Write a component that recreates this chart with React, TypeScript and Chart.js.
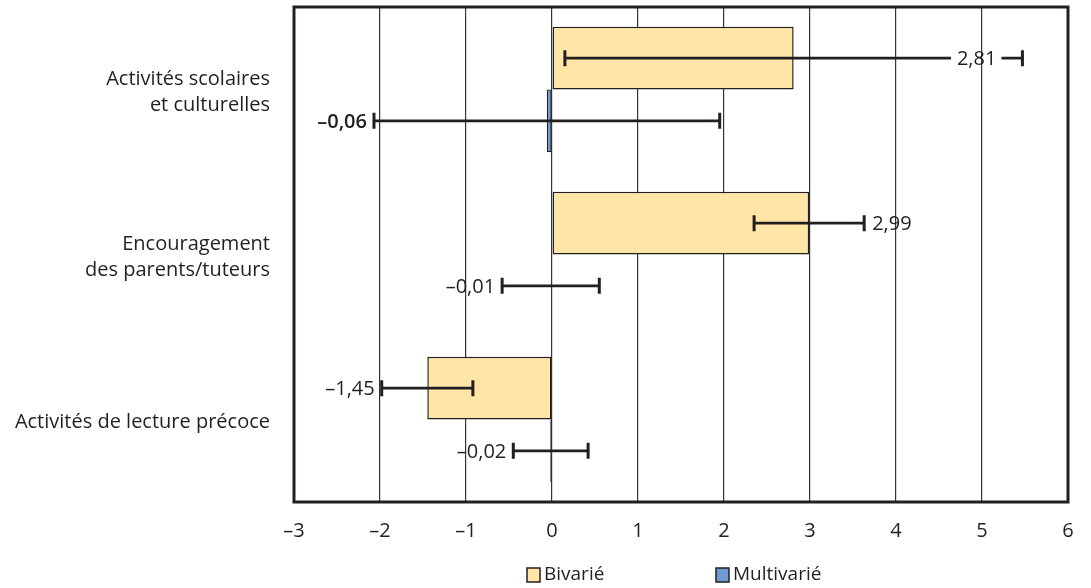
import React, { useEffect, useRef } from "react";
import { Chart, registerables } from "chart.js";

Chart.register(...registerables);

const categories: (string | string[])[] = [
  ["Activités scolaires", "et culturelles"],
  ["Encouragement", "des parents/tuteurs"],
  "Activités de lecture précoce",
];
const seriesNames = ["Bivarié", "Multivarié"];
const bivarie = [2.81, 2.99, -1.45];
const multivarie = [-0.06, -0.01, -0.02];
const bivarieLow = [0.15, 2.35, -1.98];
const bivarieHigh = [5.47, 3.63, -0.92];
const multivarieLow = [-2.07, -0.58, -0.45];
const multivarieHigh = [1.95, 0.55, 0.42];
const xTickValues = [-3, -2, -1, 0, 1, 2, 3, 4, 5, 6];

// label placement per error bar: "left" of low cap, "right" of high cap, "inner" just inside the high cap
const bivariePlacement = ["inner", "right", "left"];
const multivariePlacement = ["left", "left", "left"];
const bivarieBold = [false, false, false];
const multivarieBold = [true, false, false];

const FONT = "'Open Sans', 'Noto Sans', sans-serif";
const INK = "#231f20";
const YELLOW = "#ffe6a6";
const BLUE = "#6f9bd1";

const fmt = (v: number) => (v < 0 ? "\u2013" : "") + Math.abs(v).toFixed(2).replace(".", ",");

const errorBarPlugin = {
  id: "errorBars",
  afterDatasetsDraw(chart: any) {
    const ctx = chart.ctx;
    const xs = chart.scales.x;
    const sets = [
      { low: bivarieLow, high: bivarieHigh, vals: bivarie, place: bivariePlacement, bold: bivarieBold },
      { low: multivarieLow, high: multivarieHigh, vals: multivarie, place: multivariePlacement, bold: multivarieBold },
    ];
    sets.forEach((s, di) => {
      const meta = chart.getDatasetMeta(di);
      meta.data.forEach((bar: any, i: number) => {
        const y = bar.y;
        const x1 = xs.getPixelForValue(s.low[i]);
        const x2 = xs.getPixelForValue(s.high[i]);
        const label = fmt(s.vals[i]);
        ctx.save();
        ctx.font = `${s.bold[i] ? "600" : "400"} 20px ${FONT}`;
        const tw = ctx.measureText(label).width;
        ctx.strokeStyle = INK;
        ctx.fillStyle = INK;
        ctx.lineWidth = 2.6;
        ctx.lineCap = "butt";
        ctx.beginPath();
        if (s.place[i] === "inner") {
          const right = x2 - 26;
          const left = right - tw;
          ctx.moveTo(x1, y);
          ctx.lineTo(left - 6, y);
          ctx.moveTo(right + 5, y);
          ctx.lineTo(x2, y);
        } else {
          ctx.moveTo(x1, y);
          ctx.lineTo(x2, y);
        }
        ctx.stroke();
        ctx.lineWidth = 3;
        ctx.beginPath();
        ctx.moveTo(x1, y - 8);
        ctx.lineTo(x1, y + 8);
        ctx.moveTo(x2, y - 8);
        ctx.lineTo(x2, y + 8);
        ctx.stroke();
        ctx.textBaseline = "middle";
        if (s.place[i] === "inner") {
          ctx.textAlign = "right";
          ctx.fillText(label, x2 - 26, y + 1);
        } else if (s.place[i] === "right") {
          ctx.textAlign = "left";
          ctx.fillText(label, x2 + 8, y + 1);
        } else {
          ctx.textAlign = "right";
          ctx.fillText(label, x1 - 7, y + 1);
        }
        ctx.restore();
      });
    });
  },
  afterDraw(chart: any) {
    const ctx = chart.ctx;
    const a = chart.chartArea;
    ctx.save();
    ctx.strokeStyle = INK;
    ctx.lineWidth = 3;
    ctx.strokeRect(a.left, a.top, a.right - a.left, a.bottom - a.top);
    // legend
    const items = [
      { x: 527, color: YELLOW },
      { x: 716, color: BLUE },
    ];
    ctx.font = `400 19px ${FONT}`;
    ctx.textBaseline = "middle";
    ctx.textAlign = "left";
    items.forEach((it, i) => {
      const ds = chart.data.datasets[i];
      ctx.fillStyle = ds.backgroundColor;
      ctx.fillRect(it.x, 568, 13, 14);
      ctx.lineWidth = 1.5;
      ctx.strokeStyle = INK;
      ctx.strokeRect(it.x, 568, 13, 14);
      ctx.fillStyle = INK;
      ctx.fillText(ds.label, it.x + 17, 575);
    });
    ctx.restore();
  },
};

export default function App() {
  const ref = useRef<HTMLCanvasElement | null>(null);
  useEffect(() => {
    if (!ref.current) return;
    const chart = new Chart(ref.current, {
      type: "bar",
      data: {
        labels: categories,
        datasets: [
          {
            label: seriesNames[0],
            data: bivarie,
            backgroundColor: YELLOW,
            borderColor: INK,
            borderWidth: 1.5,
            borderSkipped: false,
            categoryPercentage: 0.76,
            barPercentage: 1,
          },
          {
            label: seriesNames[1],
            data: multivarie,
            backgroundColor: BLUE,
            borderColor: INK,
            borderWidth: 1.2,
            borderSkipped: false,
            categoryPercentage: 0.76,
            barPercentage: 1,
          },
        ],
      },
      options: {
        indexAxis: "y",
        animation: false,
        responsive: true,
        maintainAspectRatio: false,
        layout: { padding: { left: 0, right: 23, top: 7, bottom: 0 } },
        plugins: { legend: { display: false }, tooltip: { enabled: false } },
        scales: {
          x: {
            min: -3,
            max: 6,
            afterBuildTicks(scale: any) {
              scale.ticks = xTickValues.map((v) => ({ value: v }));
            },
            afterFit(scale: any) {
              scale.height = 86;
              scale.paddingLeft = 0;
              scale.paddingRight = 0;
            },
            grid: { color: "#333", lineWidth: 1.2, drawTicks: false },
            border: { display: false },
            ticks: {
              padding: 17,
              color: INK,
              font: { family: FONT, size: 20 },
              callback: (v: any) => (Number(v) < 0 ? "\u2013" + Math.abs(Number(v)) : String(v)),
            },
          },
          y: {
            afterFit(scale: any) {
              scale.width = 294;
              scale.paddingTop = 0;
              scale.paddingBottom = 0;
            },
            grid: { display: false, drawTicks: false },
            border: { display: false },
            ticks: {
              padding: 24,
              labelOffset: 3,
              color: INK,
              font: { family: FONT, size: 20, lineHeight: 1.3 },
            },
          },
        },
      },
      plugins: [errorBarPlugin],
    });
    return () => chart.destroy();
  }, []);
  return (
    <div style={{ position: "fixed", left: 0, top: 0, width: "1091px", height: "588px", background: "#fff" }}>
      <canvas ref={ref} />
    </div>
  );
}
